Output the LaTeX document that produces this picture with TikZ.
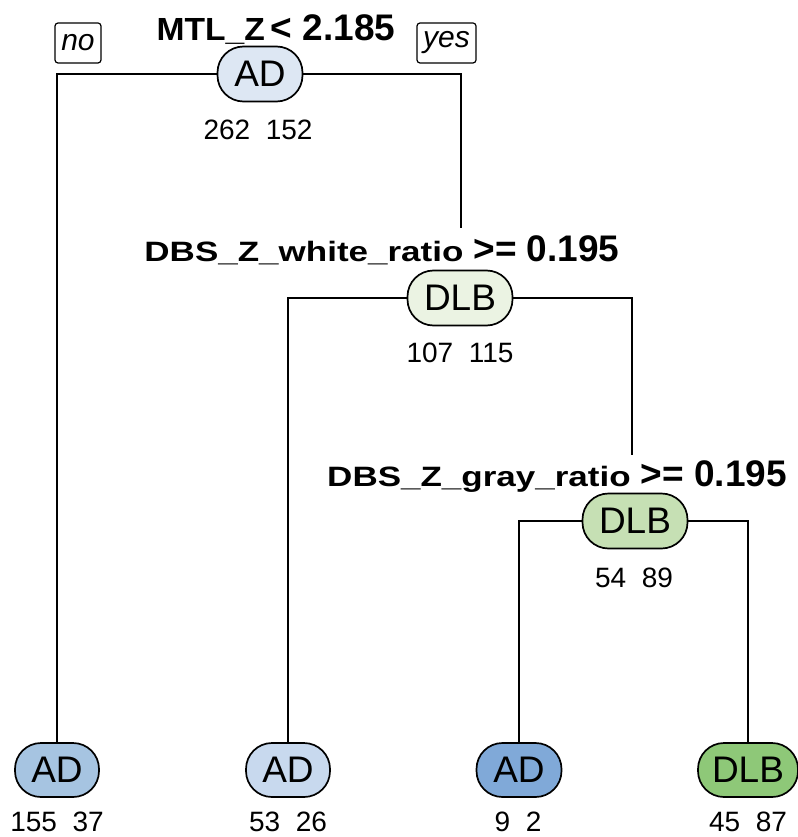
\documentclass[tikz,border=0pt]{standalone}
\usepackage{fontspec}
\setmainfont{Liberation Sans}
\usepackage{graphicx}
\definecolor{cRoot}{HTML}{DDE7F3}
\definecolor{cNtwo}{HTML}{EBF3E3}
\definecolor{cNthree}{HTML}{C6E0B4}
\definecolor{cLa}{HTML}{A6C4E1}
\definecolor{cLb}{HTML}{C8D9EE}
\definecolor{cLc}{HTML}{80A9D8}
\definecolor{cLd}{HTML}{8EC878}
\tikzset{
  tn/.style={draw=black, line width=1.7pt, rounded corners=26pt, minimum height=55pt, inner sep=0pt, font=\fontsize{37}{37}\selectfont},
  cnt/.style={inner sep=0pt, font=\fontsize{28}{28}\selectfont},
  br/.style={line width=1.7pt},
  yn/.style={draw=black, line width=1.2pt, rounded corners=3pt, minimum height=40pt, inner sep=0pt, font=\fontsize{30}{30}\selectfont\itshape},
  lab/.style={inner sep=0pt, anchor=base, font=\bfseries}
}
\newcommand{\smlab}[1]{\scalebox{1.25}[1]{\fontsize{28}{28}\selectfont #1}}
\newcommand{\biglab}[1]{{\fontsize{37}{37}\selectfont #1}}
\begin{document}
\begin{tikzpicture}[x=1pt,y=-1pt]
\useasboundingbox (0,0) rectangle (797,837);
% labels
\node[lab] (lab1) at (276,41) {\scalebox{1.05}[1]{\fontsize{32}{32}\selectfont MTL\_Z}\hspace{6pt}\biglab{< 2.185}};
\node[lab] (lab2) at (382,261) {\smlab{DBS\_Z\_white\_ratio}\hspace{10pt}\biglab{>= 0.195}};
\node[lab] (lab3) at (557,486) {\smlab{DBS\_Z\_gray\_ratio}\hspace{10pt}\biglab{>= 0.195}};
% yes/no
\node[yn, minimum width=46pt] (no) at (78,43) {no};
\node[yn, minimum width=59pt] (yes) at (446.5,43) {yes};
% split nodes
\node[tn, fill=cRoot, minimum width=85pt] (root) at (260,74) {AD};
\node[cnt] (croot) at (258,130) {262\ \ 152};
\node[tn, fill=cNtwo, minimum width=105pt] (n2) at (460,298) {DLB};
\node[cnt] (cn2) at (460,353) {107\ \ 115};
\node[tn, fill=cNthree, minimum width=105pt] (n3) at (635,521) {DLB};
\node[cnt] (cn3) at (634,578) {54\ \ 89};
% leaves
\node[tn, fill=cLa, minimum width=84pt, minimum height=54pt] (la) at (57,770) {AD};
\node[cnt] (cla) at (57,822) {155\ \ 37};
\node[tn, fill=cLb, minimum width=84pt, minimum height=54pt] (lb) at (288,770) {AD};
\node[cnt] (clb) at (288,822) {53\ \ 26};
\node[tn, fill=cLc, minimum width=85pt, minimum height=54pt] (lc) at (519,770) {AD};
\node[cnt] (clc) at (518,822) {9\ \ 2};
\node[tn, fill=cLd, minimum width=100pt, minimum height=54pt] (ld) at (748,770) {DLB};
\node[cnt] (cld) at (748,822) {45\ \ 87};
% connector end points above labels
\coordinate (t2) at (461,228);
\coordinate (t3) at (632,455);
% branches
\draw[br] (root.west) -| (la.north);
\draw[br] (root.east) -| (t2);
\draw[br] (n2.west) -| (lb.north);
\draw[br] (n2.east) -| (t3);
\draw[br] (n3.west) -| (lc.north);
\draw[br] (n3.east) -| (ld.north);
\end{tikzpicture}
\end{document}
